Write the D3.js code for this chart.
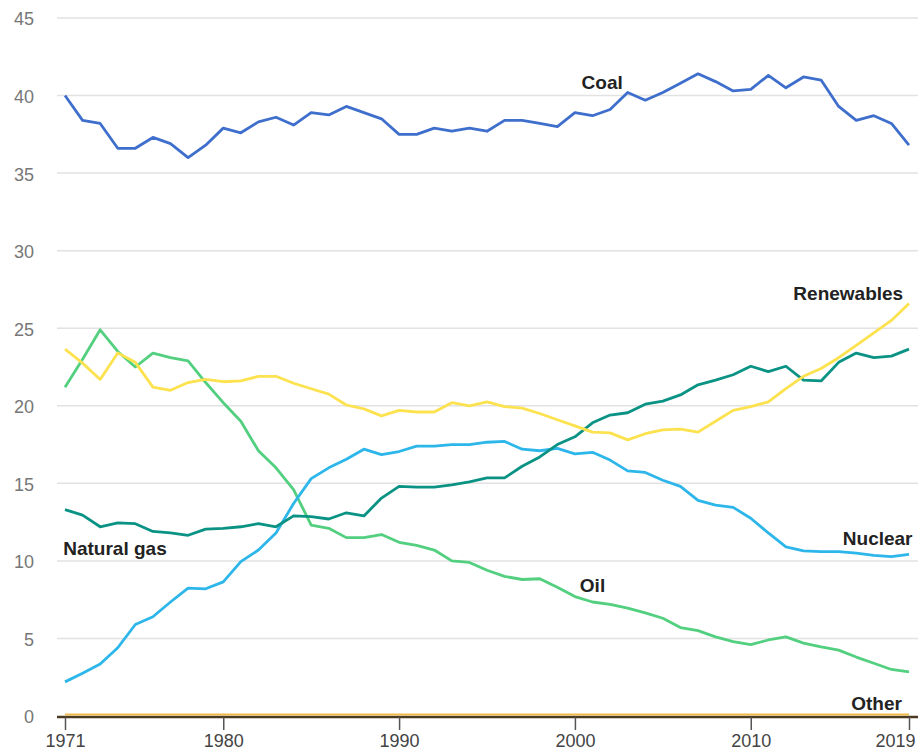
<!DOCTYPE html>
<html>
<head>
<meta charset="utf-8">
<script src="https://cdn.jsdelivr.net/npm/d3@7"></script>
<style>
  body { margin: 0; background: #fff; }
  svg { display: block; font-family: "Liberation Sans", Arial, sans-serif; }
</style>
</head>
<body>
<div id="chart"></div>
<script>
// share of world electricity generation by source, 1971-2019
const years = d3.range(1971, 2020);

const coal = [40.0, 38.4, 38.2, 36.6, 36.6, 37.3, 36.9, 36.0, 36.8, 37.9,
  37.6, 38.3, 38.6, 38.1, 38.9, 38.75, 39.3, 38.9, 38.5, 37.5,
  37.5, 37.9, 37.7, 37.9, 37.7, 38.4, 38.4, 38.2, 38.0, 38.9,
  38.7, 39.1, 40.2, 39.7, 40.2, 40.8, 41.4, 40.9, 40.3, 40.4,
  41.3, 40.5, 41.2, 41.0, 39.3, 38.4, 38.7, 38.2, 36.8];

const renewables = [23.65, 22.75, 21.7, 23.4, 22.8, 21.2, 21.0, 21.5, 21.7, 21.55,
  21.6, 21.9, 21.9, 21.45, 21.1, 20.75, 20.05, 19.8, 19.35, 19.7,
  19.6, 19.6, 20.2, 20.0, 20.25, 19.95, 19.85, 19.5, 19.1, 18.7,
  18.3, 18.25, 17.8, 18.2, 18.45, 18.5, 18.3, 19.0, 19.7, 19.95,
  20.25, 21.1, 21.9, 22.4, 23.1, 23.9, 24.7, 25.5, 26.6];

const naturalGas = [13.3, 12.95, 12.2, 12.45, 12.4, 11.9, 11.8, 11.65, 12.05, 12.1,
  12.2, 12.4, 12.2, 12.9, 12.85, 12.7, 13.1, 12.9, 14.05, 14.8,
  14.75, 14.75, 14.9, 15.1, 15.35, 15.35, 16.1, 16.7, 17.5, 18.0,
  18.9, 19.4, 19.55, 20.1, 20.3, 20.7, 21.35, 21.65, 22.0, 22.55,
  22.2, 22.55, 21.65, 21.6, 22.8, 23.4, 23.1, 23.2, 23.65];

const nuclear = [2.2, 2.75, 3.35, 4.4, 5.9, 6.4, 7.35, 8.25, 8.2, 8.65,
  9.95, 10.7, 11.8, 13.7, 15.3, 16.0, 16.55, 17.2, 16.85, 17.05,
  17.4, 17.4, 17.5, 17.5, 17.65, 17.7, 17.2, 17.1, 17.25, 16.9,
  17.0, 16.5, 15.8, 15.7, 15.2, 14.8, 13.9, 13.6, 13.45, 12.75,
  11.8, 10.9, 10.65, 10.6, 10.6, 10.5, 10.35, 10.27, 10.42];

const oil = [21.2, 23.0, 24.9, 23.5, 22.5, 23.4, 23.1, 22.9, 21.5, 20.2,
  19.0, 17.1, 16.0, 14.6, 12.3, 12.1, 11.5, 11.5, 11.7, 11.2,
  11.0, 10.7, 10.0, 9.9, 9.4, 9.0, 8.8, 8.85, 8.3, 7.7,
  7.35, 7.2, 6.95, 6.65, 6.3, 5.7, 5.5, 5.1, 4.8, 4.6,
  4.9, 5.1, 4.7, 4.45, 4.25, 3.8, 3.4, 3.0, 2.85];

const other = [0.1, 0.1, 0.1, 0.1, 0.1, 0.1, 0.1, 0.1, 0.1, 0.1,
  0.1, 0.1, 0.1, 0.1, 0.1, 0.1, 0.1, 0.1, 0.1, 0.1,
  0.1, 0.1, 0.1, 0.1, 0.1, 0.1, 0.1, 0.1, 0.1, 0.1,
  0.1, 0.1, 0.1, 0.1, 0.1, 0.1, 0.1, 0.1, 0.1, 0.1,
  0.1, 0.1, 0.1, 0.1, 0.1, 0.1, 0.1, 0.1, 0.1];

const yTicks = [0, 5, 10, 15, 20, 25, 30, 35, 40, 45];
const xTicks = [1971, 1980, 1990, 2000, 2010, 2019];

// label: [year, value, anchor] placed at the text baseline
const series = [
  { name: "Other", values: other, color: "#f0b94a", label: [2018.6, 0.39, "end"] },
  { name: "Oil", values: oil, color: "#52cf7f", label: [2001.0, 8.0, "middle"] },
  { name: "Nuclear", values: nuclear, color: "#2db6ea", label: [2019.2, 11.03, "end"] },
  { name: "Natural gas", values: naturalGas, color: "#0a9384", label: [1970.9, 10.38, "start"] },
  { name: "Renewables", values: renewables, color: "#fde24f", label: [2018.67, 26.82, "end"] },
  { name: "Coal", values: coal, color: "#3f6fcc", label: [2001.55, 40.43, "middle"] }
];

const width = 922, height = 750;

const svg = d3.select("#chart").append("svg")
  .attr("width", width)
  .attr("height", height);

const x = d3.scaleLinear()
  .domain([1971, 2019])
  .range([65, 909]);

const y = d3.scaleLinear()
  .domain([0, 45])
  .range([716, 18]);

// gridlines
svg.append("g")
  .selectAll("line")
  .data(yTicks.filter(d => d > 0))
  .join("line")
  .attr("x1", 57)
  .attr("x2", 918)
  .attr("y1", d => y(d))
  .attr("y2", d => y(d))
  .style("stroke", "#e2e2e2")
  .style("stroke-width", 1.5);

// y labels
svg.append("g")
  .selectAll("text")
  .data(yTicks)
  .join("text")
  .attr("x", 34)
  .attr("y", d => y(d) + 1)
  .attr("dy", "0.36em")
  .attr("text-anchor", "end")
  .text(d => d)
  .style("fill", "#777")
  .style("font-size", "18px");

// x axis
const xAxis = svg.append("g")
  .attr("transform", `translate(0,${y(0) + 1})`)
  .call(d3.axisBottom(x).tickValues(xTicks).tickFormat(d3.format("d")).tickSize(13).tickSizeOuter(0));

xAxis.select(".domain")
  .attr("d", "M57,0H918")
  .style("stroke", "#4a3a22")
  .style("stroke-width", 2.5);
xAxis.selectAll(".tick line").style("stroke", "#555").style("stroke-width", 1.5);
xAxis.selectAll(".tick text")
  .attr("y", 30)
  .attr("dy", 0)
  .style("fill", "#444")
  .style("font-size", "18px")
  .style("font-family", "'Liberation Sans', Arial, sans-serif");
// last year label is pulled in so it stays inside the frame
xAxis.selectAll(".tick text")
  .filter(d => d === 2019)
  .attr("text-anchor", "end")
  .attr("x", 6);

// lines
const line = d3.line()
  .x((d, i) => x(years[i]))
  .y(d => y(d));

svg.append("g")
  .selectAll("path")
  .data(series)
  .join("path")
  .attr("d", d => line(d.values))
  .style("fill", "none")
  .style("stroke", d => d.color)
  .style("stroke-width", d => d.name === "Other" ? 2 : 2.8)
  .style("stroke-linejoin", "round");

// direct labels
svg.append("g")
  .selectAll("text")
  .data(series)
  .join("text")
  .attr("x", d => x(d.label[0]))
  .attr("y", d => y(d.label[1]))
  .attr("text-anchor", d => d.label[2])
  .text(d => d.name)
  .style("fill", "#222")
  .style("font-size", "19px")
  .style("font-weight", "bold");
</script>
</body>
</html>
